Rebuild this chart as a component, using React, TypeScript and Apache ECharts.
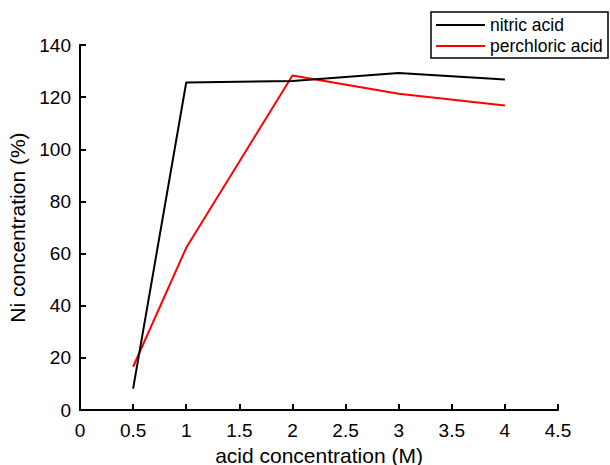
import React, { useEffect, useRef } from "react";
import * as echarts from "echarts";

const xValues = [0.5, 1, 2, 3, 4];
const nitricValues = [8.2, 125.6, 126.2, 129.3, 126.8];
const perchloricValues = [16.6, 62.2, 128.3, 121.3, 116.8];
const seriesNames = ["nitric acid", "perchloric acid"];
const seriesColors = ["#000000", "#ff0000"];

export default function App() {
  const ref = useRef<HTMLDivElement>(null);
  useEffect(() => {
    const chart = echarts.init(ref.current!, null, { renderer: "svg" });
    const font = "'Liberation Sans', Arial, sans-serif";
    const axisCommon = {
      axisLine: { show: true, lineStyle: { color: "#000", width: 2 } },
      axisTick: { show: true, inside: true, length: 6, lineStyle: { color: "#000", width: 2 } },
      axisLabel: { color: "#000", fontSize: 19, fontFamily: font },
      splitLine: { show: false },
      nameTextStyle: { color: "#000", fontSize: 21, fontFamily: font },
    };
    chart.setOption({
      animation: false,
      backgroundColor: "#fff",
      grid: {
        left: 80,
        right: 52,
        top: 45,
        bottom: 55,
        containLabel: false,
        outerBoundsMode: "none",
      },
      xAxis: {
        type: "value",
        min: 0,
        max: 4.5,
        interval: 0.5,
        name: "acid concentration (M)",
        nameLocation: "middle",
        nameGap: 33,
        ...axisCommon,
        axisLabel: { ...axisCommon.axisLabel, margin: 11 },
      },
      yAxis: {
        type: "value",
        min: 0,
        max: 140,
        interval: 20,
        name: "Ni concentration (%)",
        nameLocation: "middle",
        nameGap: 47,
        ...axisCommon,
        axisLabel: { ...axisCommon.axisLabel, margin: 9 },
      },
      series: [
        {
          name: seriesNames[0],
          type: "line",
          data: xValues.map((x, i) => [x, nitricValues[i]]),
          symbol: "none",
          lineStyle: { color: seriesColors[0], width: 2 },
          z: 3,
        },
        {
          name: seriesNames[1],
          type: "line",
          data: xValues.map((x, i) => [x, perchloricValues[i]]),
          symbol: "none",
          lineStyle: { color: seriesColors[1], width: 2 },
          z: 2,
        },
      ],
      graphic: [
        {
          type: "rect",
          shape: { x: 431, y: 12, width: 177, height: 46 },
          style: { fill: "#fff", stroke: "#000", lineWidth: 1.5 },
          z: 10,
        },
        ...seriesNames.flatMap((name, i) => [
          {
            type: "line",
            shape: { x1: 436, y1: 25 + i * 21, x2: 485, y2: 25 + i * 21 },
            style: { stroke: seriesColors[i], lineWidth: 2 },
            z: 11,
          },
          {
            type: "text",
            x: 490,
            y: 25 + i * 21,
            style: {
              text: name,
              fill: "#000",
              fontSize: 17.5,
              fontFamily: font,
              verticalAlign: "middle",
              align: "left",
            },
            z: 11,
          },
        ]),
      ],
    });
    return () => chart.dispose();
  }, []);
  return <div ref={ref} style={{ width: 610, height: 465, position: "absolute", left: 0, top: 0 }} />;
}
